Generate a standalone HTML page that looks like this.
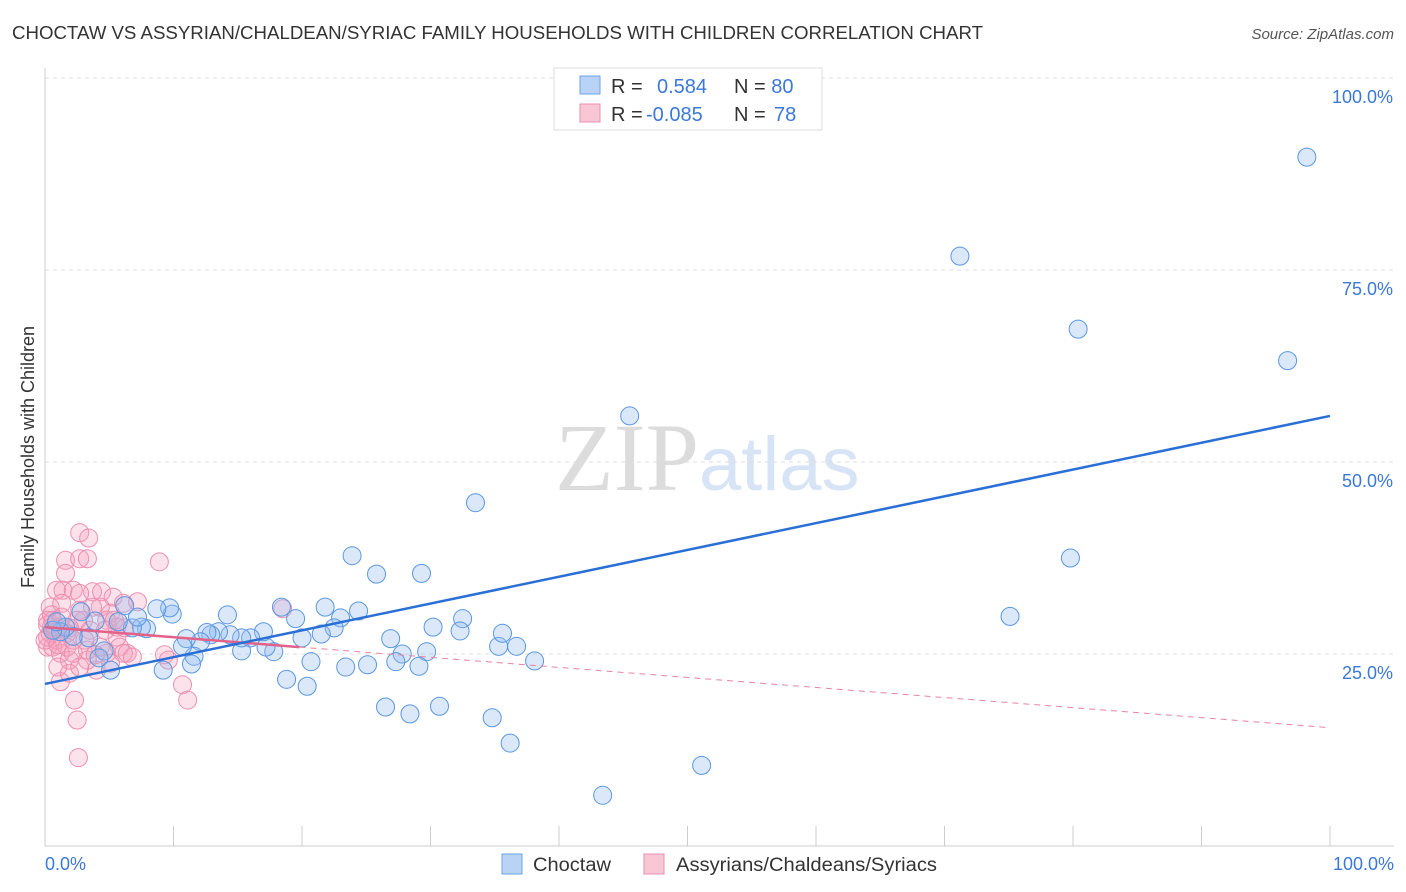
<!DOCTYPE html>
<html><head><meta charset="utf-8"><style>
body{margin:0;background:#fff;font-family:"Liberation Sans",sans-serif}
svg{display:block}
</style></head><body>
<svg width="1406" height="892" xmlns="http://www.w3.org/2000/svg">
<text x="12" y="39" font-size="18" fill="#333" textLength="971" lengthAdjust="spacingAndGlyphs">CHOCTAW VS ASSYRIAN/CHALDEAN/SYRIAC FAMILY HOUSEHOLDS WITH CHILDREN CORRELATION CHART</text>
<text x="1394" y="39" font-size="15" fill="#555" font-style="italic" text-anchor="end">Source: ZipAtlas.com</text>
<text x="555" y="490" font-size="96" fill="#e4e4e4" font-family="Liberation Serif"><tspan fill="#dcdcdc">ZIP</tspan><tspan fill="#d6e4f6" font-family="Liberation Sans" font-size="76">atlas</tspan></text>
<g id="grid"></g>
<g id="axes"></g>
<g id="pts"></g>
<g id="trend"></g>
<text transform="translate(34,457) rotate(-90)" font-size="18" fill="#333" text-anchor="middle">Family Households with Children</text>
<text x="45" y="870" font-size="18" fill="#3b78d8">0.0%</text>
<text x="1394" y="870" font-size="18" fill="#3b78d8" text-anchor="end">100.0%</text>
<g>
<rect x="554" y="68" width="268" height="62" fill="#fff" stroke="#ddd"/>
<rect x="580" y="76" width="20" height="18" fill="#b8d3f5" stroke="#6fa3e6"/>
<rect x="580" y="104" width="20" height="18" fill="#f9c6d5" stroke="#ea8fae"/>
<text x="611" y="93" font-size="20" fill="#333">R = <tspan fill="#3b78d8" x="657">0.584</tspan><tspan x="734" fill="#333">N = </tspan><tspan fill="#3b78d8">80</tspan></text>
<text x="611" y="121" font-size="20" fill="#333">R = <tspan fill="#3b78d8" x="646">-0.085</tspan><tspan x="734" fill="#333">N = </tspan><tspan fill="#3b78d8" x="774">78</tspan></text>
</g>
<g>
<rect x="502" y="854" width="20" height="20" fill="#b8d3f5" stroke="#6fa3e6"/>
<text x="533" y="871" font-size="19" fill="#333" textLength="78" lengthAdjust="spacingAndGlyphs">Choctaw</text>
<rect x="644" y="854" width="20" height="20" fill="#f9c6d5" stroke="#ea8fae"/>
<text x="676" y="871" font-size="19" fill="#333" textLength="261" lengthAdjust="spacingAndGlyphs">Assyrians/Chaldeans/Syriacs</text>
</g>
</svg>
<script>
const yTicks=[25,50,75,100];
const yTickLabels=["25.0%","50.0%","75.0%","100.0%"];
const xTicks=[0,10,20,30,40,50,60,70,80,90,100];
const blueX=[98.2,71.2,80.4,96.7,45.5,33.5,79.8,23.9,25.8,29.3,75.1,43.4,51.1,36.2,34.8,30.7,28.4,26.5,20.4,18.8,38.1,36.7,35.3,35.6,32.5,32.3,30.2,29.7,29.1,27.8,27.3,26.9,25.1,23.4,24.4,23.0,22.5,21.8,21.5,20.7,20.0,19.5,18.4,17.8,17.2,17.0,16.0,15.3,15.3,14.4,14.2,13.5,12.9,12.6,12.1,11.6,11.0,10.7,11.4,9.2,9.9,9.7,8.7,7.9,7.5,6.8,7.2,6.2,5.7,5.1,4.6,4.2,3.9,3.4,2.8,2.2,1.6,1.2,0.6,0.9];
const blueY=[89.7,76.8,67.3,63.2,56.0,44.7,37.5,37.8,35.4,35.5,29.9,6.6,10.5,13.4,16.7,18.2,17.2,18.1,20.8,21.7,24.1,26.0,26.0,27.7,29.6,28.0,28.5,25.3,23.4,25.0,24.0,27.0,23.6,23.3,30.6,29.7,28.4,31.1,27.6,24.0,27.1,29.6,31.1,25.3,25.9,27.9,27.1,25.4,27.1,27.5,30.1,27.9,27.5,27.8,26.6,24.7,27.0,26.0,23.7,22.9,30.2,31.0,30.9,28.3,28.5,28.4,29.8,31.3,29.2,22.9,25.4,24.5,29.3,27.1,30.5,27.3,28.5,27.9,28.1,29.2];
const pinkX=[2.7,3.4,1.6,2.7,3.3,8.9,1.6,0.9,1.4,2.2,3.7,4.4,5.3,7.2,6.1,0.4,2.7,4.3,5.1,18.5,0.6,1.2,0.4,0.9,1.7,2.2,0.2,1.2,1.9,5.6,5.8,4.8,6.4,4.3,3.3,4.0,9.3,9.6,10.7,11.1,1.2,1.9,2.3,2.5,2.6,0.5,0.8,0.2,3.0,3.5,4.8,5.6,2.7,3.7,1.3,0.6,0.2,1.7,2.5,3.3,5.1,6.8,6.1,2.2,1.0,2.7,0.2,0.5,0,1.0,1.3,1.9,3.1,3.9,4.7,5.4,6.2];
const pinkY=[40.8,40.1,37.2,37.4,37.4,37.0,35.5,33.3,33.3,33.3,33.1,33.1,32.4,31.8,31.6,31.1,30.7,31.1,30.3,30.9,29.4,28.5,27.7,26.8,27.7,26.8,25.9,25.1,24.2,27.2,25.9,25.1,25.1,25.9,25.5,22.9,24.9,24.2,21.0,19.0,21.4,22.5,19.0,16.4,11.5,28.5,28.1,29.4,29.4,28.1,29.4,28.5,32.9,31.1,31.6,25.9,27.2,25.9,29.4,24.2,23.8,24.6,25.1,25.1,23.3,23.3,28.8,30.1,26.8,26.2,29.8,28.4,26.8,24.9,28.1,29.4,28.4];
const blueTrend=[[0,21.1],[100,56]];
const pinkSolid=[[0,28.5],[19.8,25.9]];
const pinkDashed=[[19.8,25.9],[100,15.4]];
const X=v=>45+v*12.85, Y=v=>846-v*7.68;
const NS="http://www.w3.org/2000/svg";
function mk(t,a,p){const e=document.createElementNS(NS,t);for(const k in a)e.setAttribute(k,a[k]);p.appendChild(e);return e;}
const grid=document.getElementById('grid'),axes=document.getElementById('axes'),pts=document.getElementById('pts'),tr=document.getElementById('trend');
yTicks.forEach((v,i)=>{
 const l=mk('line',{x1:45,x2:1394,y1:Y(v),y2:Y(v),stroke:'#ddd','stroke-dasharray':'4,4'},grid);
 
 
 const t=mk('text',{x:1393,y:Y(v)+25,'font-size':18,fill:'#3b78d8','text-anchor':'end'},grid);
 t.textContent=yTickLabels[i];
 
 
});
const ax=mk('line',{x1:45,x2:45,y1:68,y2:846,stroke:'#ccc'},axes);


const bx=mk('line',{x1:45,x2:1394,y1:846,y2:846,stroke:'#ccc'},axes);


xTicks.forEach(v=>{
 const l=mk('line',{x1:X(v),x2:X(v),y1:826,y2:846,stroke:'#ccc'},axes);
 
 
});
pinkX.forEach((v,i)=>{
 const c=mk('circle',{cx:X(v),cy:Y(pinkY[i]),r:9,fill:'rgba(245,160,190,0.3)',stroke:'#ec8fae','stroke-width':1},pts);
 
 
});
blueX.forEach((v,i)=>{
 const c=mk('circle',{cx:X(v),cy:Y(blueY[i]),r:9,fill:'rgba(150,190,240,0.35)',stroke:'#5b97e0','stroke-width':1},pts);
 
 
});
function ln(a,st,w,dash,name){const l=mk('line',{x1:X(a[0][0]),y1:Y(a[0][1]),x2:X(a[1][0]),y2:Y(a[1][1]),stroke:st,'stroke-width':w},tr);if(dash)l.setAttribute('stroke-dasharray',dash);
 
 }
ln(pinkDashed,'#e7839f',1,'6,5','assyrian-trend-dashed');
ln(pinkSolid,'#e2628a',2.5,null,'assyrian-trend');
ln(blueTrend,'#2a6fd6',2.5,null,'choctaw-trend');
</script>
</body></html>
